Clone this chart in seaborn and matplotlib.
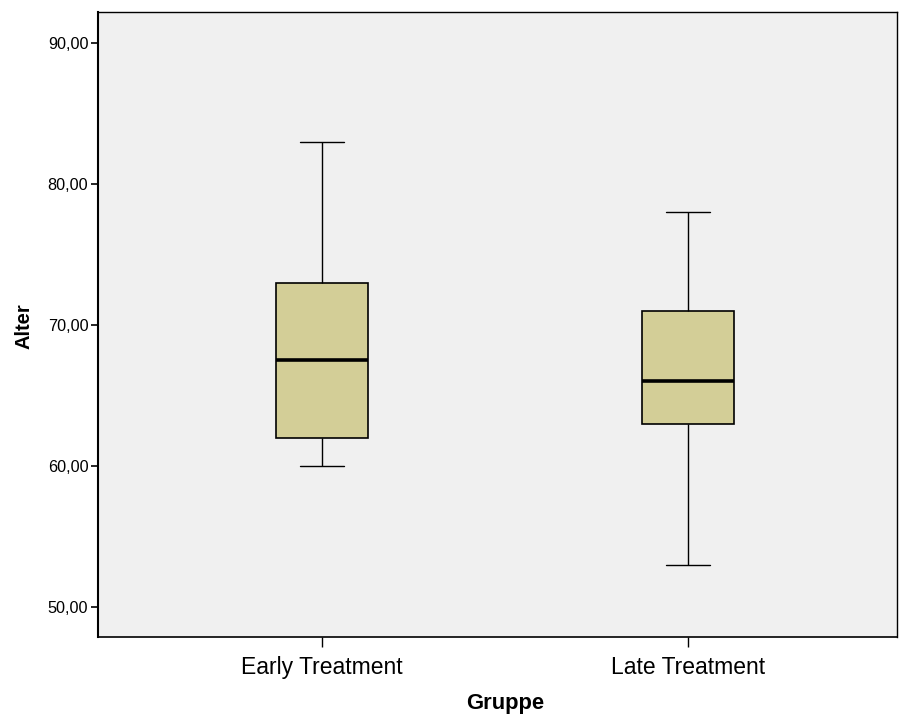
import matplotlib
matplotlib.use("Agg")
import matplotlib.pyplot as plt
import seaborn as sns
import pandas as pd

# Data: five-number summaries per group (min, Q1, median, Q3, max)
groups = ["Early Treatment", "Late Treatment"]
early_values = [60.0, 62.0, 67.5, 73.0, 83.0]
late_values = [53.0, 63.0, 66.0, 71.0, 78.0]
y_ticks = [50, 60, 70, 80, 90]
y_tick_labels = ["50,00", "60,00", "70,00", "80,00", "90,00"]

df = pd.DataFrame({
    "Gruppe": [groups[0]] * len(early_values) + [groups[1]] * len(late_values),
    "Alter": early_values + late_values,
})

sns.set_theme(style="ticks")
plt.rcParams["font.family"] = ["Liberation Sans", "DejaVu Sans"]
plt.rcParams["text.color"] = "black"
plt.rcParams["axes.labelcolor"] = "black"
plt.rcParams["xtick.color"] = "black"
plt.rcParams["ytick.color"] = "black"

fig = plt.figure(figsize=(8.99, 7.17), dpi=100)
ax = fig.add_axes([98 / 899, 1 - 637 / 717, 799 / 899, 625 / 717])
ax.set_facecolor("#F0F0F0")

sns.boxplot(
    data=df, x="Gruppe", y="Alter", ax=ax, order=groups,
    width=0.251, color="#D3CE97", saturation=1, whis=1.5,
    linecolor="black", linewidth=1.0,
    boxprops=dict(facecolor="#D3CE97", edgecolor="black", linewidth=1.2),
    medianprops=dict(color="black", linewidth=2.6),
    whiskerprops=dict(color="black", linewidth=1.0),
    capprops=dict(color="black", linewidth=1.0),
    capwidths=0.12,
    showfliers=False,
)

ax.set_xlim(-0.612, 1.571)
ax.set_ylim(47.87, 92.2)
ax.set_yticks(y_ticks)
ax.set_yticklabels(y_tick_labels, fontsize=11.7, color="black")
ax.tick_params(axis="y", direction="out", length=5, width=1.2, color="black", labelcolor="black", pad=2)
ax.tick_params(axis="x", direction="out", length=7, width=1.0, color="black", labelcolor="black", labelsize=16.5, pad=7)

ax.set_xlabel("Gruppe", fontsize=15.8, fontweight="bold", color="black")
ax.set_ylabel("Alter", fontsize=14.5, fontweight="bold", color="black")
ax.xaxis.set_label_coords((505 - 98) / 799, -(705 - 637) / 625, transform=None) if False else None
ax.xaxis.set_label_coords((505 - 98) / 799, -(714 - 637) / 625)
ax.xaxis.label.set_va("bottom")
ax.yaxis.set_label_coords(-(98 - 14) / 799, (637 - 326) / 625)
ax.yaxis.label.set_va("top")

for side in ["top", "right", "bottom", "left"]:
    ax.spines[side].set_visible(True)
    ax.spines[side].set_color("black")
ax.spines["left"].set_linewidth(1.5)
ax.spines["bottom"].set_linewidth(1.2)
ax.spines["top"].set_linewidth(1.0)
ax.spines["right"].set_linewidth(1.0)

fig.savefig("out.png", dpi=100, facecolor="white")
